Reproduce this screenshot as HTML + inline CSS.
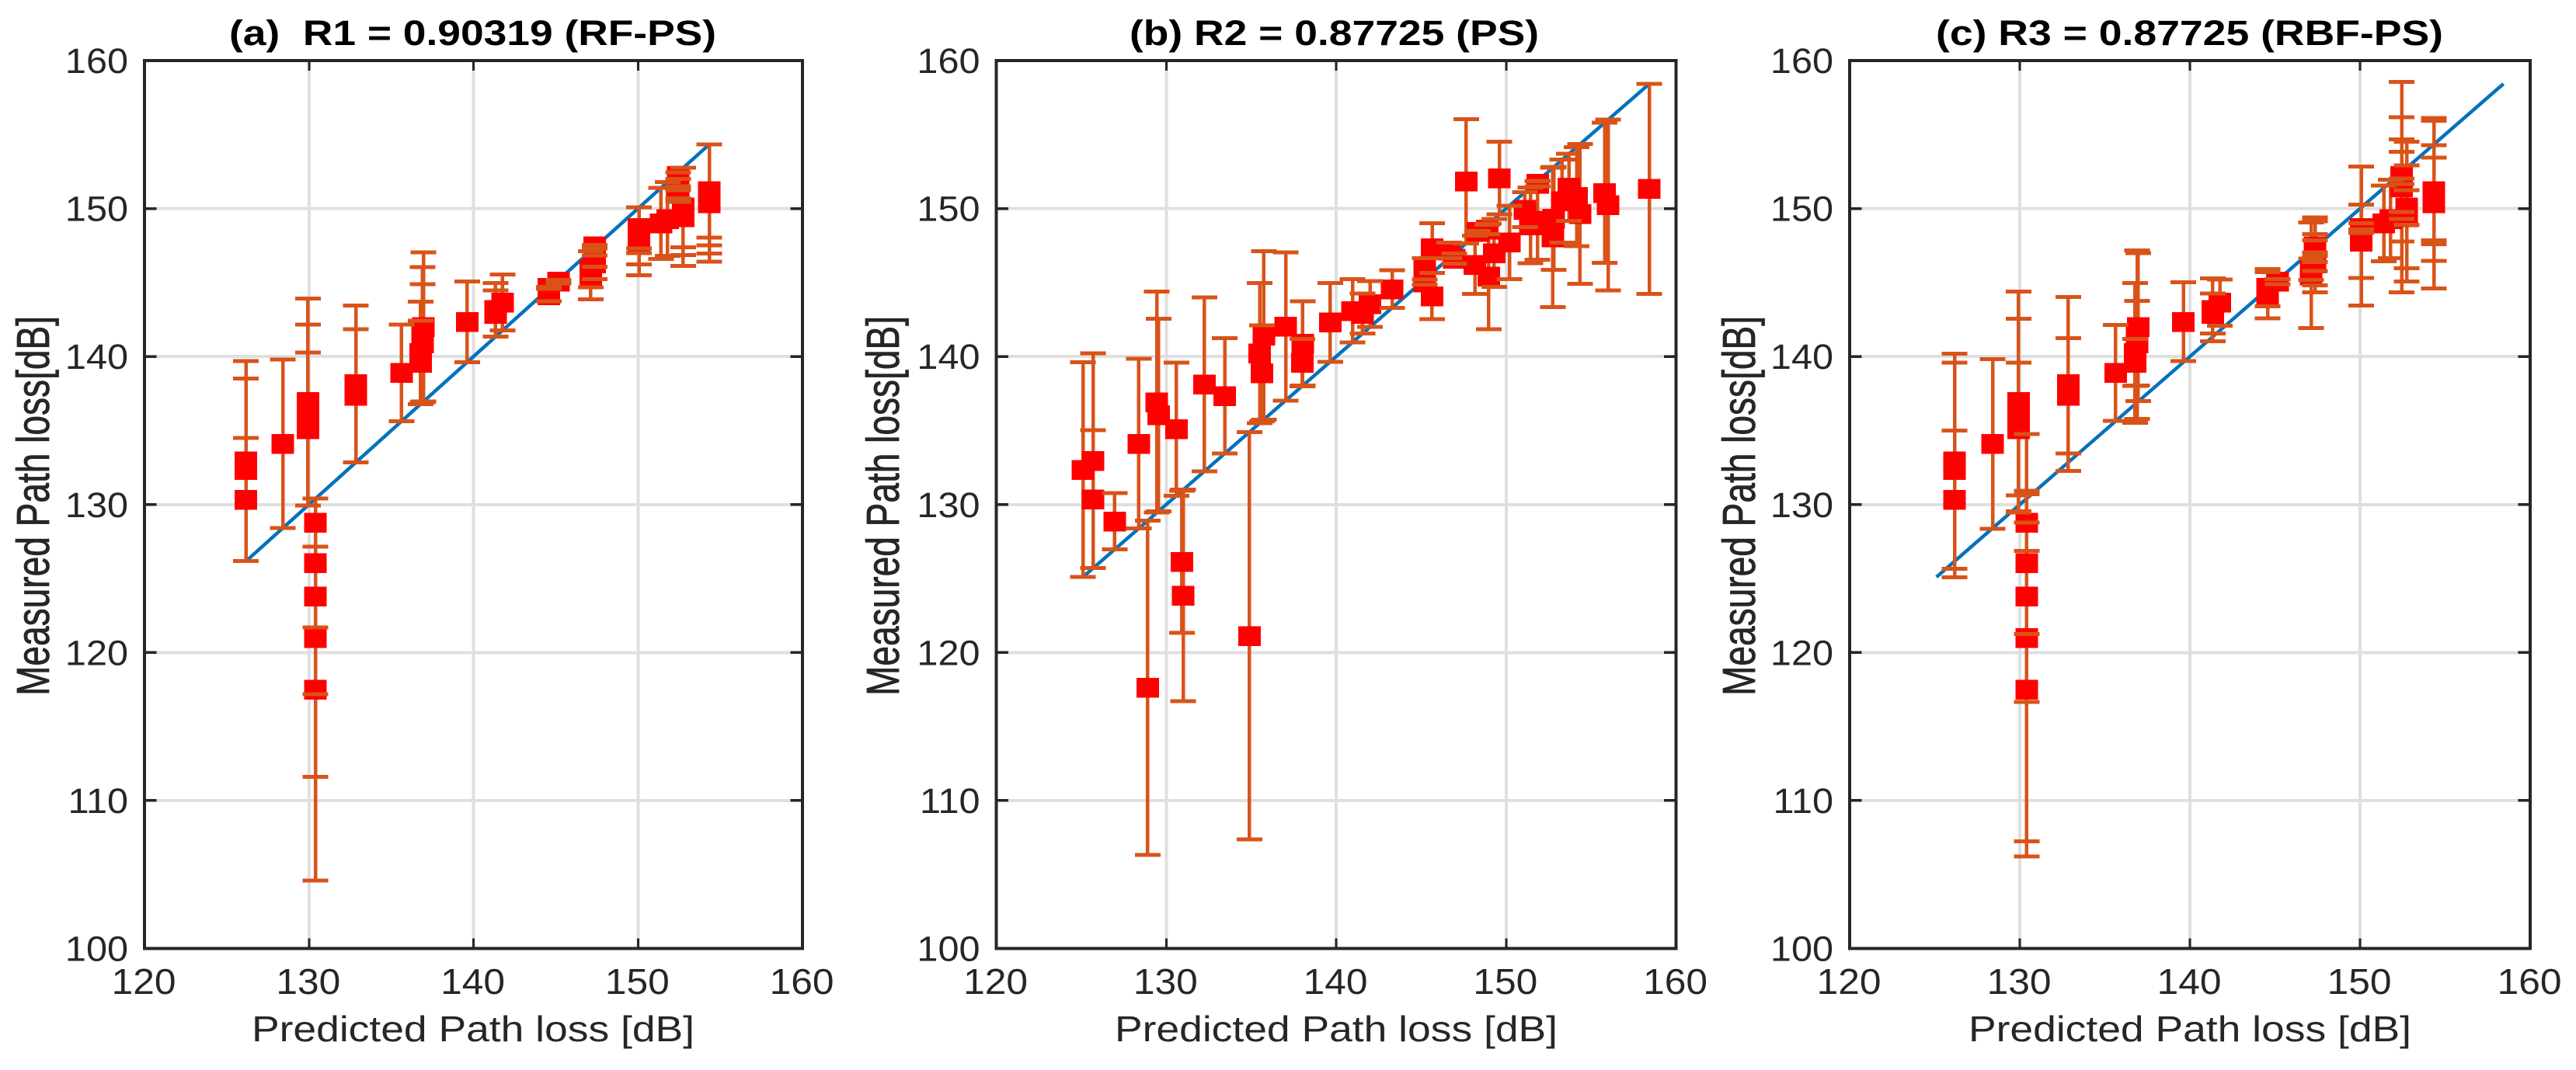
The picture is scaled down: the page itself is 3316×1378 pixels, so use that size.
<!DOCTYPE html>
<html lang="en">
<head>
<meta charset="utf-8">
<title>Measured vs predicted path loss</title>
<style>
html,body{margin:0;padding:0;background:#fff;}
svg{display:block;}
text{font-family:"Liberation Sans",Arial,sans-serif;}
</style>
</head>
<body>
<svg id="figure" xmlns="http://www.w3.org/2000/svg" width="3316" height="1378" viewBox="0 0 3316 1378">
  <rect x="0" y="0" width="3316" height="1378" fill="#ffffff"/>
  <text x="295" y="58" font-size="45" font-weight="bold" fill="#000" textLength="627" lengthAdjust="spacingAndGlyphs" xml:space="preserve">(a)  R1 = 0.90319 (RF-PS)</text>
  <text x="1454" y="58" font-size="45" font-weight="bold" fill="#000" textLength="527" lengthAdjust="spacingAndGlyphs">(b) R2 = 0.87725 (PS)</text>
  <text x="2492" y="58" font-size="45" font-weight="bold" fill="#000" textLength="653" lengthAdjust="spacingAndGlyphs">(c) R3 = 0.87725 (RBF-PS)</text>
  <text x="324" y="1341" font-size="46" fill="#262626" textLength="570" lengthAdjust="spacingAndGlyphs">Predicted Path loss [dB]</text>
  <text x="1435" y="1341" font-size="46" fill="#262626" textLength="570" lengthAdjust="spacingAndGlyphs">Predicted Path loss [dB]</text>
  <text x="2534" y="1341" font-size="46" fill="#262626" textLength="570" lengthAdjust="spacingAndGlyphs">Predicted Path loss [dB]</text>
  <text transform="translate(63,896) rotate(-90)" font-size="59" fill="#262626" stroke="#262626" stroke-width="0.8" textLength="489" lengthAdjust="spacingAndGlyphs">Measured Path loss[dB]</text>
  <text transform="translate(1157,896) rotate(-90)" font-size="59" fill="#262626" stroke="#262626" stroke-width="0.8" textLength="489" lengthAdjust="spacingAndGlyphs">Measured Path loss[dB]</text>
  <text transform="translate(2259,896) rotate(-90)" font-size="59" fill="#262626" stroke="#262626" stroke-width="0.8" textLength="489" lengthAdjust="spacingAndGlyphs">Measured Path loss[dB]</text>
</svg>
<script>
// Measured path loss (a) and (c)
const measured = [117.5,121.0,123.79,126.05,128.78,130.33,132.34,132.93,134.1,135.1,136.05,136.93,137.35,138.15,138.9,139.6,140.25,140.9,141.47,142.0,142.35,142.9,143.16,143.65,144.15,144.64,145.06,145.5,145.9,146.3,146.71,147.1,147.33,147.45,147.78,148.15,148.53,148.68,149.0,149.3,149.44,149.8,150.07,150.37,150.65,150.93,151.19,151.45,151.57,151.85,151.97,152.22];
// Measured path loss
const measuredB = [117.62,121.13,123.86,126.13,128.87,130.36,132.36,132.96,134.11,135.09,136.05,136.92,137.34,138.12,138.87,139.59,140.23,140.88,141.43,142.03,142.31,142.9,143.09,143.55,144.08,144.56,145.03,145.41,145.92,146.2,146.62,147.0,147.17,147.33,147.72,148.05,148.42,148.58,148.87,149.2,149.33,149.63,149.92,150.24,150.5,150.8,151.06,151.33,151.43,151.69,151.85,152.06];
// Predicted path loss, RF-PS / RBF-PS abscissae (panels a and c)
const predictedRF = [130.4,130.4,130.4,130.4,130.4,126.17,126.17,126.17,128.41,129.93,129.93,129.93,132.85,132.85,135.63,136.78,136.78,136.9,136.9,136.96,139.62,141.34,141.34,141.76,144.57,144.57,145.17,147.13,147.13,147.36,147.36,147.36,147.36,147.36,150.07,150.07,150.07,150.07,151.4,151.8,152.75,152.75,152.75,154.34,154.34,154.34,154.34,152.45,152.45,152.45,152.45,152.45];
// Predicted path loss, PS (panel b)
const predictedPS = [128.91,134.9,131.0,130.92,126.96,125.7,125.1,125.7,128.38,130.6,129.55,129.45,133.44,132.25,135.63,138.0,135.5,138.03,135.74,137.03,139.65,141.55,140.96,141.99,145.64,143.3,145.2,148.98,145.2,148.17,146.95,149.3,146.65,145.65,150.2,152.75,148.35,148.9,151.43,151.85,152.8,154.35,151.1,156.0,153.3,154.15,155.8,158.43,153.7,151.87,147.65,149.6];
// Diagonal reference line ends
const diagonalA = [126.17,154.34];
const diagonalB = [125.1,158.43];
const diagonalC = [125.1,158.43];
// Tick labels
const xTickLabels = [120,130,140,150,160];
const yTickLabels = [100,110,120,130,140,150,160];

const NS = 'http://www.w3.org/2000/svg';
const svg = document.getElementById('figure');
const TOP = 78, BOTTOM = 1221.5, XMIN = 120, XMAX = 160, YMIN = 100, YMAX = 160;

function el(parent, tag, attrs) {
  const n = document.createElementNS(NS, tag);
  for (const k in attrs) n.setAttribute(k, attrs[k]);
  parent.appendChild(n);
  return n;
}

function drawPanel(id, left, right, xs, ys, errCenter, errRef, diag) {
  const sx = v => left + (v - XMIN) / (XMAX - XMIN) * (right - left);
  const sy = v => BOTTOM - (v - YMIN) / (YMAX - YMIN) * (BOTTOM - TOP);
  const axes = el(svg, 'g', {});
  
  

  const grid = el(axes, 'g', {stroke: '#dfdfdf', 'stroke-width': 4, 'shape-rendering': 'crispEdges'});
  
  
  xTickLabels.forEach(t => {
    if (t === XMIN || t === XMAX) return;
    const l = el(grid, 'line', {x1: sx(t), x2: sx(t), y1: TOP, y2: BOTTOM});
    
    
  });
  yTickLabels.forEach(t => {
    if (t === YMIN || t === YMAX) return;
    const l = el(grid, 'line', {x1: left, x2: right, y1: sy(t), y2: sy(t)});
    
    
  });

  const diagLine = el(axes, 'line', {x1: sx(diag[0]), y1: sy(diag[0]), x2: sx(diag[1]), y2: sy(diag[1]), stroke: '#0072BD', 'stroke-width': 4.5});
  
  

  const bars = el(axes, 'g', {fill: '#D95319', 'shape-rendering': 'crispEdges'});
  
  
  const markers = el(axes, 'g', {fill: '#FF0000', 'shape-rendering': 'crispEdges'});
  
  
  const caps = el(axes, 'g', {fill: '#D95319', 'shape-rendering': 'crispEdges'});
  
  

  xs.forEach((xv, i) => {
    const yv = ys[i];
    const err = Math.abs(errCenter[i] - errRef[i]);
    const px = sx(xv), hi = sy(yv + err), lo = sy(yv - err), py = sy(yv);
    const bar = el(bars, 'rect', {x: px - 2.25, y: hi, width: 4.5, height: Math.max(lo - hi, 1)});
    
    
    const m = el(markers, 'rect', {x: px - 14.5, y: py - 12.5, width: 29, height: 25.5});
    
    
    const capHi = el(caps, 'rect', {x: px - 16.5, y: hi - 2.5, width: 33, height: 5});
    
    
    const capLo = el(caps, 'rect', {x: px - 16.5, y: lo - 2.5, width: 33, height: 5});
    
    
  });

  const frame = el(axes, 'g', {stroke: '#262626', fill: 'none', 'shape-rendering': 'crispEdges'});
  
  
  const box = el(frame, 'path', {d: 'M' + left + ' ' + TOP + 'H' + right + 'V' + BOTTOM + 'H' + left + 'Z', 'stroke-width': 4});
  
  
  xTickLabels.forEach(t => {
    if (t === XMIN || t === XMAX) return;
    const a = el(frame, 'line', {x1: sx(t), x2: sx(t), y1: TOP, y2: TOP + 13, 'stroke-width': 3});
    
    
    const b = el(frame, 'line', {x1: sx(t), x2: sx(t), y1: BOTTOM, y2: BOTTOM - 13, 'stroke-width': 3});
    
    
  });
  yTickLabels.forEach(t => {
    if (t === YMIN || t === YMAX) return;
    const a = el(frame, 'line', {x1: left, x2: left + 15.5, y1: sy(t), y2: sy(t), 'stroke-width': 3.5});
    
    
    const b = el(frame, 'line', {x1: right, x2: right - 15.5, y1: sy(t), y2: sy(t), 'stroke-width': 3.5});
    
    
  });

  xTickLabels.forEach(t => {
    const lab = el(axes, 'text', {transform: 'translate(' + (sx(t) - 1) + ',1280) scale(1.08,1)', 'text-anchor': 'middle', 'font-size': 46, fill: '#262626'});
    lab.textContent = String(t);
    
    
  });
  yTickLabels.forEach(t => {
    const lab = el(axes, 'text', {transform: 'translate(' + (left - 21) + ',' + (sy(t) + 16) + ') scale(1.08,1)', 'text-anchor': 'end', 'font-size': 45, fill: '#262626'});
    lab.textContent = String(t);
    
    
  });
}

drawPanel('a', 186, 1033, predictedRF, measured, measured, predictedRF, diagonalA);
drawPanel('b', 1282.5, 2157.5, predictedPS, measuredB, measuredB, predictedPS, diagonalB);
drawPanel('c', 2381, 3257, predictedRF, measured, measuredB, predictedPS, diagonalC);
</script>
</body>
</html>
